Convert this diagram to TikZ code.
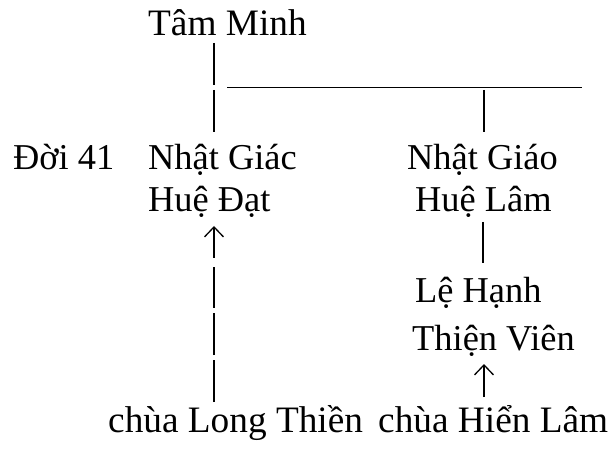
\documentclass[tikz,border=0pt]{standalone}
\usepackage{fontspec}
\setmainfont{Liberation Serif}
\usetikzlibrary{arrows.meta}
\newcommand{\bigtxt}{\fontsize{36.4}{40}\selectfont}
\newcommand{\bottomtxt}{\fontsize{37.3}{40}\selectfont}
\begin{document}
\begin{tikzpicture}[x=1pt,y=-1pt,
  lbl/.style={font=\bigtxt, inner sep=0pt, anchor=base west},
  conn/.style={line width=1.3pt},
  gapped/.style={line width=1.3pt, dash pattern=on 42pt off 5pt},
  uparrow/.style={line width=1.3pt, -{Straight Barb[length=10pt,width=19pt,line width=1.3pt]}}]
\useasboundingbox (0,0) rectangle (613,454);
\node[lbl, font=\bottomtxt] (tam) at (148,36) {Tâm Minh};
\node[lbl] (doi) at (13,170) {Đời 41};
\node[lbl] (ngiac) at (148,170) {Nhật Giác};
\node[lbl] (hdat) at (148,212) {Huệ Đạt};
\node[lbl] (ngiao) at (407,170) {Nhật Giáo};
\node[lbl] (hlam) at (415,212) {Huệ Lâm};
\node[lbl] (lehanh) at (415,303) {Lệ Hạnh};
\node[lbl] (tvien) at (412,350) {Thiện Viên};
\node[lbl, font=\bottomtxt] (clong) at (108,432) {chùa Long Thiền};
\node[lbl, font=\bottomtxt] (chien) at (378,432) {chùa Hiển Lâm};
% named coordinates for connector ends
\coordinate (a1) at (214,43);
\coordinate (a2) at (214,132);
\coordinate (h1) at (227,88);
\coordinate (h2) at (582,88);
\coordinate (b1) at (484,90);
\coordinate (b2) at (484,132);
\coordinate (c1) at (483,222);
\coordinate (c2) at (483,263);
\coordinate (d1) at (214,402);
\coordinate (d2) at (214,267);
\coordinate (d3) at (214,258);
\coordinate (d4) at (214,226);
\coordinate (e1) at (484,397);
\coordinate (e2) at (484,364);
% connectors
\draw[gapped] (a1) -- (a2);
\draw[line width=1pt] (h1) -- (h2);
\draw[conn] (b1) -- (b2);
\draw[conn] (c1) -- (c2);
\draw[gapped] (d1) -- (d2);
\draw[uparrow] (d3) -- (d4);
\draw[uparrow] (e1) -- (e2);
\end{tikzpicture}
\end{document}
